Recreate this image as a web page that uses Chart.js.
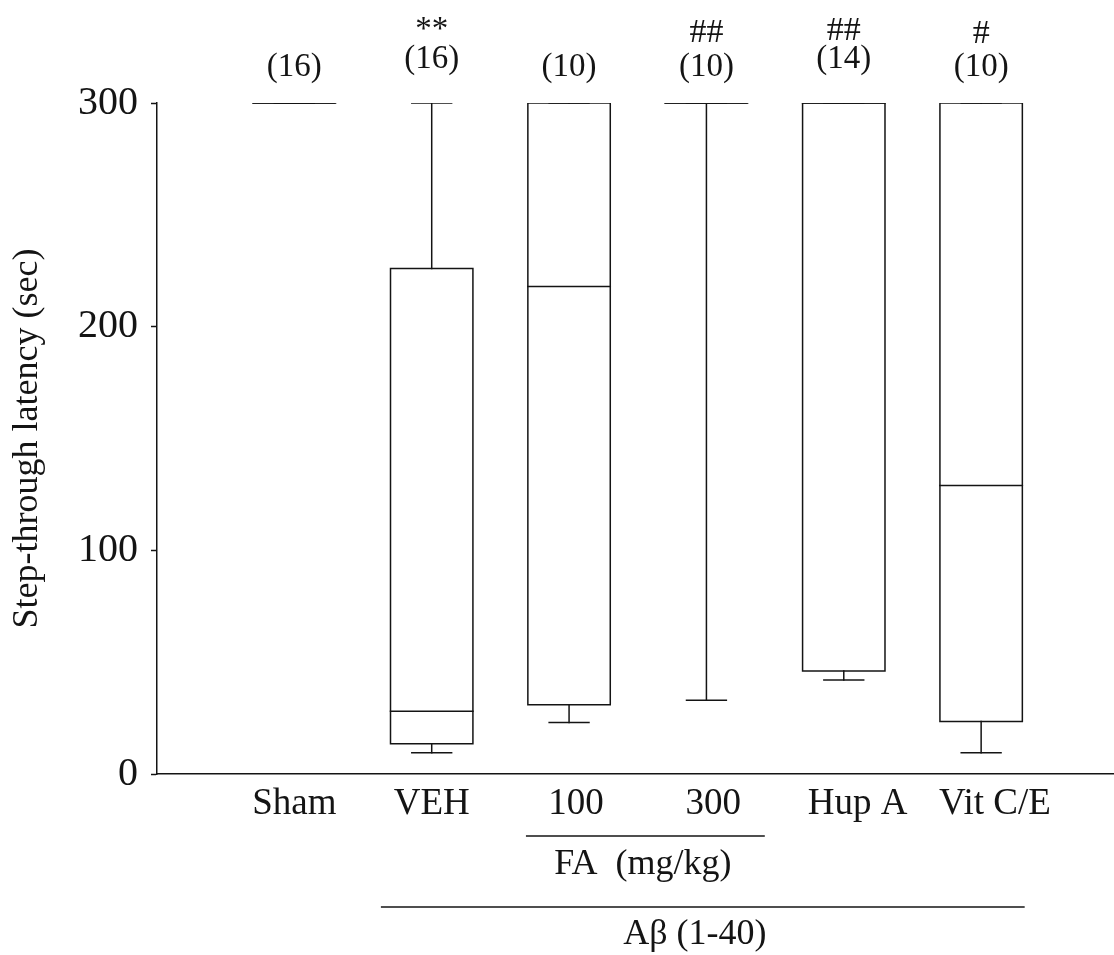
<!DOCTYPE html>
<html><head><meta charset="utf-8">
<script src="https://cdn.jsdelivr.net/npm/chart.js@4"></script>
<style>html,body{margin:0;padding:0;background:#fff}#wrap{width:1114px;height:955px}</style>
</head><body><div id="wrap"><canvas id="c" width="1114" height="955"></canvas></div>
<script>
// ---- data ----
const categories = ['Sham', 'VEH', '100', '300', 'Hup A', 'Vit C/E'];
const whiskerMin = [300, 9.5, 23, 33, 42, 9.5];
const q1         = [300, 13.5, 31, 300, 46, 23.5];
const median     = [300, 28, 218, 300, 300, 129];
const q3         = [300, 226, 300, 300, 300, 300];
const whiskerMax = [300, 300, 300, 300, 300, 300];
const nLabels    = ['(16)', '(16)', '(10)', '(10)', '(14)', '(10)'];
const sigLabels  = ['', '**', '', '##', '##', '#'];
const yTicks     = [0, 100, 200, 300];
const yTitle     = 'Step-through latency (sec)';
const faLabel    = 'FA  (mg/kg)';
const abLabel    = 'A\u03B2 (1-40)';

// ---- layout / style (not data) ----
const labelPos     = [1, 2, 3.05, 4.05, 5.1, 6.1];   // x positions of category labels
const nLabelRise   = [27, 35, 27, 27, 35, 27];
const sigLabelRise = [0, 64, 0, 61, 63, 60];
const ink = '#141414';
const FONT = "'Liberation Serif','Times New Roman',serif";
const BOX_HALF = 0.3, CAP_HALF = 0.145;
const LW = 1.5;

function seg(points) {
  return { data: points, borderColor: ink, borderWidth: LW, pointRadius: 0,
           pointHoverRadius: 0, showLine: true, fill: false, tension: 0,
           borderJoinStyle: 'miter', borderCapStyle: 'square' };
}
const datasets = [];
categories.forEach((c, i) => {
  const x = i + 1;
  datasets.push(seg([{x: x - BOX_HALF, y: q1[i]}, {x: x + BOX_HALF, y: q1[i]},
                     {x: x + BOX_HALF, y: q3[i]}, {x: x - BOX_HALF, y: q3[i]},
                     {x: x - BOX_HALF, y: q1[i]}]));
  datasets.push(seg([{x: x - BOX_HALF, y: median[i]}, {x: x + BOX_HALF, y: median[i]}]));
  datasets.push(seg([{x: x, y: q3[i]}, {x: x, y: whiskerMax[i]}]));
  datasets.push(seg([{x: x, y: whiskerMin[i]}, {x: x, y: q1[i]}]));
  datasets.push(seg([{x: x - CAP_HALF, y: whiskerMax[i]}, {x: x + CAP_HALF, y: whiskerMax[i]}]));
  datasets.push(seg([{x: x - CAP_HALF, y: whiskerMin[i]}, {x: x + CAP_HALF, y: whiskerMin[i]}]));
});

const annot = {
  id: 'annot',
  afterDraw(chart) {
    const ctx = chart.ctx, xs = chart.scales.x, ys = chart.scales.y;
    ctx.save();
    ctx.fillStyle = ink;
    ctx.textAlign = 'center';
    ctx.textBaseline = 'alphabetic';
    categories.forEach((c, i) => {
      const px = xs.getPixelForValue(i + 1);
      const topPx = ys.getPixelForValue(whiskerMax[i]);
      ctx.font = '33px ' + FONT;
      ctx.fillText(nLabels[i], px, topPx - nLabelRise[i]);
      if (sigLabels[i]) {
        ctx.font = (sigLabels[i][0] === '#' ? '34px ' : '33px ') + FONT;
        ctx.fillText(sigLabels[i], px, topPx - sigLabelRise[i]);
      }
    });
    const base = chart.chartArea.bottom;
    ctx.strokeStyle = ink;
    ctx.lineWidth = LW;
    ctx.beginPath();
    ctx.moveTo(xs.getPixelForValue(2.686), base + 62);
    ctx.lineTo(xs.getPixelForValue(4.425), base + 62);
    ctx.stroke();
    ctx.beginPath();
    ctx.moveTo(xs.getPixelForValue(1.63), base + 133);
    ctx.lineTo(xs.getPixelForValue(6.317), base + 133);
    ctx.stroke();
    ctx.font = '36px ' + FONT;
    ctx.textBaseline = 'middle';
    ctx.fillText(faLabel, xs.getPixelForValue(3.537), base + 91);
    ctx.fillText(abLabel, xs.getPixelForValue(3.916), base + 161);
    ctx.restore();
  }
};

new Chart(document.getElementById('c'), {
  type: 'scatter',
  data: { datasets },
  plugins: [annot],
  options: {
    responsive: false,
    animation: false,
    events: [],
    layout: { padding: { top: 103, right: 1, left: 0, bottom: 0 } },
    plugins: { legend: { display: false }, tooltip: { enabled: false } },
    scales: {
      x: {
        type: 'linear', min: 0, max: 6.96,
        afterBuildTicks: s => { s.ticks = labelPos.map(v => ({ value: v })); },
        afterFit: s => { s.height = 181; },
        ticks: {
          callback: (v, i) => categories[i] ?? '',
          font: { family: FONT, size: 37 }, color: ink, padding: 8,
          maxRotation: 0, autoSkip: false
        },
        grid: { drawOnChartArea: false, drawTicks: false },
        border: { color: ink, width: LW }
      },
      y: {
        min: 0, max: 300,
        afterBuildTicks: s => { s.ticks = yTicks.map(v => ({ value: v })); },
        afterFit: s => { s.width = 157; },
        ticks: { font: { family: FONT, size: 40 }, color: ink, padding: 13 },
        grid: { drawOnChartArea: false, drawTicks: true, tickLength: 6, tickColor: ink, tickWidth: LW },
        border: { color: ink, width: LW },
        title: { display: true, text: yTitle, font: { family: FONT, size: 36 }, color: ink,
                 padding: { top: 6, bottom: 0 } }
      }
    }
  }
});
</script></body></html>
